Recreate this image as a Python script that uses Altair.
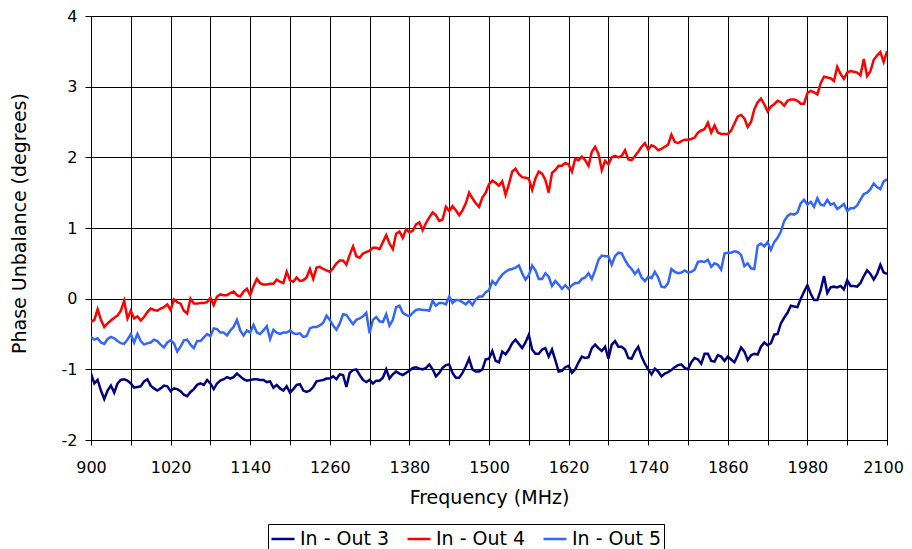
import altair as alt
import pandas as pd

freq = list(range(900, 2101, 5))

out3 = [
    -1.06, -1.20, -1.15, -1.30, -1.42, -1.30, -1.23, -1.33, -1.20, -1.15,
    -1.14, -1.16, -1.20, -1.26, -1.25, -1.24, -1.17, -1.14, -1.23, -1.27,
    -1.30, -1.27, -1.23, -1.24, -1.31, -1.27, -1.28, -1.31, -1.36, -1.38,
    -1.32, -1.28, -1.22, -1.20, -1.22, -1.15, -1.20, -1.28, -1.20, -1.16,
    -1.14, -1.11, -1.13, -1.11, -1.06, -1.10, -1.14, -1.16, -1.15, -1.14,
    -1.14, -1.15, -1.15, -1.18, -1.17, -1.26, -1.22, -1.27, -1.30, -1.24,
    -1.33, -1.28, -1.22, -1.21, -1.30, -1.32, -1.30, -1.25, -1.17, -1.16,
    -1.15, -1.13, -1.13, -1.10, -1.14, -1.07, -1.08, -1.25, -1.05, -1.01,
    -1.00, -1.08, -1.15, -1.18, -1.15, -1.20, -1.16, -1.16, -1.12, -1.00,
    -1.13, -1.07, -1.03, -1.06, -1.08, -1.05, -1.02, -0.98, -0.97, -0.99,
    -1.00, -0.98, -0.93, -1.00, -1.10, -1.05, -0.98, -0.94, -0.93, -1.05,
    -1.12, -1.12, -1.05, -0.96, -0.85, -1.00, -1.03, -1.03, -1.00, -0.86,
    -0.85, -0.74, -0.88, -0.90, -0.75, -0.79, -0.72, -0.63, -0.58, -0.64,
    -0.70, -0.62, -0.51, -0.72, -0.78, -0.78, -0.72, -0.70, -0.82, -0.72,
    -0.87, -1.03, -1.02, -0.97, -0.95, -1.05, -1.00, -0.90, -0.82, -0.84,
    -0.83, -0.70, -0.65, -0.70, -0.74, -0.68, -0.85, -0.65, -0.60, -0.68,
    -0.68, -0.72, -0.84, -0.85, -0.75, -0.68, -0.82, -0.92, -1.00, -1.07,
    -0.99, -1.03, -1.10, -1.06, -1.04, -1.01, -0.97, -0.94, -0.93, -0.98,
    -1.00, -0.90, -0.84, -0.86, -0.92, -0.78, -0.78, -0.88, -0.89, -0.80,
    -0.82, -0.88, -0.82, -0.86, -0.90, -0.80, -0.69, -0.75, -0.87, -0.80,
    -0.78, -0.79, -0.68, -0.62, -0.66, -0.63, -0.51, -0.50, -0.35, -0.27,
    -0.20, -0.10, -0.11, -0.12, 0.00, 0.10, 0.19, 0.07, -0.02, -0.02,
    0.12, 0.32, 0.08, 0.16, 0.17, 0.16, 0.18, 0.13, 0.26, 0.18,
    0.18, 0.17, 0.22, 0.32, 0.40, 0.35, 0.27, 0.35, 0.48, 0.37,
    0.35,
]

out4 = [
    -0.33, -0.30, -0.15, -0.30, -0.40, -0.35, -0.31, -0.27, -0.24, -0.17,
    -0.03, -0.28, -0.17, -0.28, -0.25, -0.31, -0.26, -0.19, -0.14, -0.16,
    -0.17, -0.14, -0.12, -0.08, -0.16, -0.01, -0.05, -0.07, -0.17, -0.21,
    0.00, -0.07, -0.07, -0.06, -0.06, -0.05, 0.01, -0.09, 0.03, 0.06,
    0.05, 0.05, 0.08, 0.10, 0.05, 0.03, 0.10, 0.14, 0.05, 0.18,
    0.28, 0.22, 0.20, 0.20, 0.21, 0.21, 0.27, 0.24, 0.22, 0.38,
    0.26, 0.24, 0.30, 0.25, 0.26, 0.30, 0.42, 0.28, 0.44, 0.45,
    0.42, 0.40, 0.38, 0.43, 0.50, 0.54, 0.54, 0.48, 0.62, 0.74,
    0.60, 0.58, 0.64, 0.66, 0.68, 0.72, 0.72, 0.70, 0.80, 0.90,
    0.78, 0.70, 0.92, 0.95, 0.86, 0.98, 0.94, 0.96, 1.05, 1.08,
    0.97, 1.07, 1.15, 1.22, 1.18, 1.10, 1.12, 1.30, 1.24, 1.31,
    1.25, 1.18, 1.25, 1.35, 1.50, 1.42, 1.35, 1.30, 1.43, 1.50,
    1.62, 1.67, 1.64, 1.60, 1.66, 1.47, 1.62, 1.80, 1.84, 1.76,
    1.72, 1.71, 1.70, 1.54, 1.70, 1.80, 1.77, 1.68, 1.50, 1.78,
    1.82, 1.88, 1.88, 1.92, 1.90, 1.80, 1.98, 1.96, 2.01, 1.96,
    1.88, 2.08, 2.15, 2.05, 1.82, 1.95, 1.90, 2.00, 2.02, 2.00,
    2.02, 2.10, 1.97, 1.96, 2.02, 2.08, 2.15, 2.20, 2.11, 2.17,
    2.15, 2.10, 2.12, 2.15, 2.18, 2.32, 2.22, 2.20, 2.23, 2.25,
    2.25, 2.26, 2.28, 2.35, 2.38, 2.40, 2.49, 2.35, 2.45, 2.35,
    2.33, 2.33, 2.33, 2.38, 2.48, 2.58, 2.60, 2.55, 2.43, 2.50,
    2.68, 2.78, 2.83, 2.75, 2.65, 2.72, 2.75, 2.80, 2.78, 2.73,
    2.80, 2.82, 2.82, 2.80, 2.76, 2.76, 2.91, 2.94, 2.92, 2.89,
    3.05, 3.14, 3.13, 3.12, 3.08, 3.28, 3.18, 3.11, 3.20, 3.22,
    3.21, 3.20, 3.16, 3.39, 3.15, 3.22, 3.38, 3.44, 3.49, 3.35,
    3.50,
]

out5 = [
    -0.54, -0.58, -0.56, -0.62, -0.64, -0.57, -0.54, -0.56, -0.60, -0.63,
    -0.64, -0.58, -0.50, -0.62, -0.50, -0.60, -0.65, -0.63, -0.62, -0.58,
    -0.60, -0.65, -0.69, -0.62, -0.59, -0.63, -0.75, -0.68, -0.59, -0.58,
    -0.65, -0.70, -0.60, -0.60, -0.55, -0.50, -0.53, -0.42, -0.43, -0.48,
    -0.48, -0.52, -0.45, -0.40, -0.30, -0.45, -0.52, -0.45, -0.48, -0.37,
    -0.48, -0.50, -0.45, -0.39, -0.57, -0.44, -0.48, -0.50, -0.48, -0.48,
    -0.45, -0.49, -0.50, -0.49, -0.54, -0.53, -0.42, -0.40, -0.40, -0.38,
    -0.34, -0.24, -0.30, -0.38, -0.44, -0.35, -0.22, -0.23, -0.30, -0.36,
    -0.30, -0.28, -0.25, -0.20, -0.49, -0.30, -0.26, -0.32, -0.33, -0.22,
    -0.38, -0.30, -0.12, -0.10, -0.20, -0.23, -0.25, -0.20, -0.16, -0.15,
    -0.16, -0.16, -0.17, -0.03, -0.10, -0.06, -0.06, -0.08, 0.03, -0.06,
    -0.02, -0.02, -0.05, -0.08, -0.03, -0.09, -0.01, 0.03, 0.03, 0.09,
    0.12, 0.25, 0.20, 0.28, 0.34, 0.38, 0.41, 0.42, 0.44, 0.47,
    0.36, 0.27, 0.33, 0.47, 0.40, 0.28, 0.28, 0.36, 0.31, 0.18,
    0.25, 0.20, 0.14, 0.19, 0.14, 0.19, 0.22, 0.22, 0.28, 0.30,
    0.36, 0.28, 0.40, 0.55, 0.61, 0.60, 0.60, 0.48, 0.60, 0.65,
    0.64, 0.55, 0.47, 0.42, 0.35, 0.41, 0.30, 0.25, 0.31, 0.29,
    0.38, 0.30, 0.17, 0.16, 0.22, 0.42, 0.38, 0.36, 0.37, 0.40,
    0.37, 0.38, 0.41, 0.52, 0.53, 0.52, 0.55, 0.45, 0.50, 0.48,
    0.41, 0.64, 0.65, 0.65, 0.67, 0.66, 0.62, 0.46, 0.50, 0.43,
    0.42, 0.75, 0.78, 0.74, 0.80, 0.69, 0.80, 0.86, 0.95, 1.10,
    1.17, 1.20, 1.19, 1.22, 1.35, 1.40, 1.33, 1.37, 1.30, 1.42,
    1.33, 1.32, 1.40, 1.33, 1.35, 1.27, 1.30, 1.34, 1.24, 1.28,
    1.28, 1.32, 1.40, 1.48, 1.50, 1.55, 1.63, 1.58, 1.55, 1.66,
    1.69,
]

series_names = ["In - Out 3", "In - Out 4", "In - Out 5"]
series_colors = ["#000080", "#FF0000", "#3366FF"]
x_tick_values = list(range(900, 2101, 60))
y_tick_values = [-2, -1, 0, 1, 2, 3, 4]

rows = []
for name, vals in zip(series_names, [out3, out4, out5]):
    for f, v in zip(freq, vals):
        rows.append({"freq": f, "value": v, "series": name})
df = pd.DataFrame(rows)

FONT = "DejaVu Sans"

chart = (
    alt.Chart(df)
    .mark_line(strokeWidth=2.5, clip=True)
    .encode(
        x=alt.X(
            "freq:Q",
            scale=alt.Scale(domain=[900, 2100], nice=False, zero=False),
            axis=alt.Axis(
                title="Frequency (MHz)",
                values=x_tick_values,
                labelExpr="datum.value % 120 == 60 ? '' + datum.value : ''",
                labelFlush=False,
                labelOverlap=False,
                labelOffset={"condition": {"test": "datum.value == 2100", "value": -4}, "value": 0},
                tickSize=5,
                labelPadding=14,
                titleY=48,
            ),
        ),
        y=alt.Y(
            "value:Q",
            scale=alt.Scale(domain=[-2, 4], nice=False, zero=False),
            axis=alt.Axis(
                title="Phase Unbalance (degrees)",
                values=y_tick_values,
                labelExpr="'' + datum.value",
                tickSize=6,
                labelPadding=8,
                titleX=-62,
                titleY=207,
            ),
        ),
        color=alt.Color(
            "series:N",
            scale=alt.Scale(domain=series_names, range=series_colors),
            legend=alt.Legend(
                title=None,
                orient="none",
                legendX=177,
                legendY=508,
                direction="horizontal",
                strokeColor="black",
                fillColor="white",
                padding=2,
                symbolType="stroke",
                symbolStrokeWidth=2.5,
                symbolSize=529,
                labelFont=FONT,
                labelFontSize=19,
                labelColor="black",
                columnPadding=12,
                labelOffset=4,
                cornerRadius=0,
            ),
        ),
    )
    .properties(
        width=796,
        height=424,
        autosize=alt.AutoSizeParams(type="none"),
        padding={"left": 83, "top": 8, "right": 17, "bottom": 109},
    )
    .configure_view(stroke="black", strokeWidth=1)
    .configure_axis(
        grid=True,
        gridColor="black",
        gridWidth=1,
        gridOpacity=1,
        domainColor="black",
        tickColor="black",
        labelFont=FONT,
        labelFontSize=16,
        labelColor="black",
        titleFont=FONT,
        titleFontSize=19,
        titleFontWeight="normal",
        titleColor="black",
    )
)

chart.save("out.html", embed_options={"renderer": "svg", "actions": False})
